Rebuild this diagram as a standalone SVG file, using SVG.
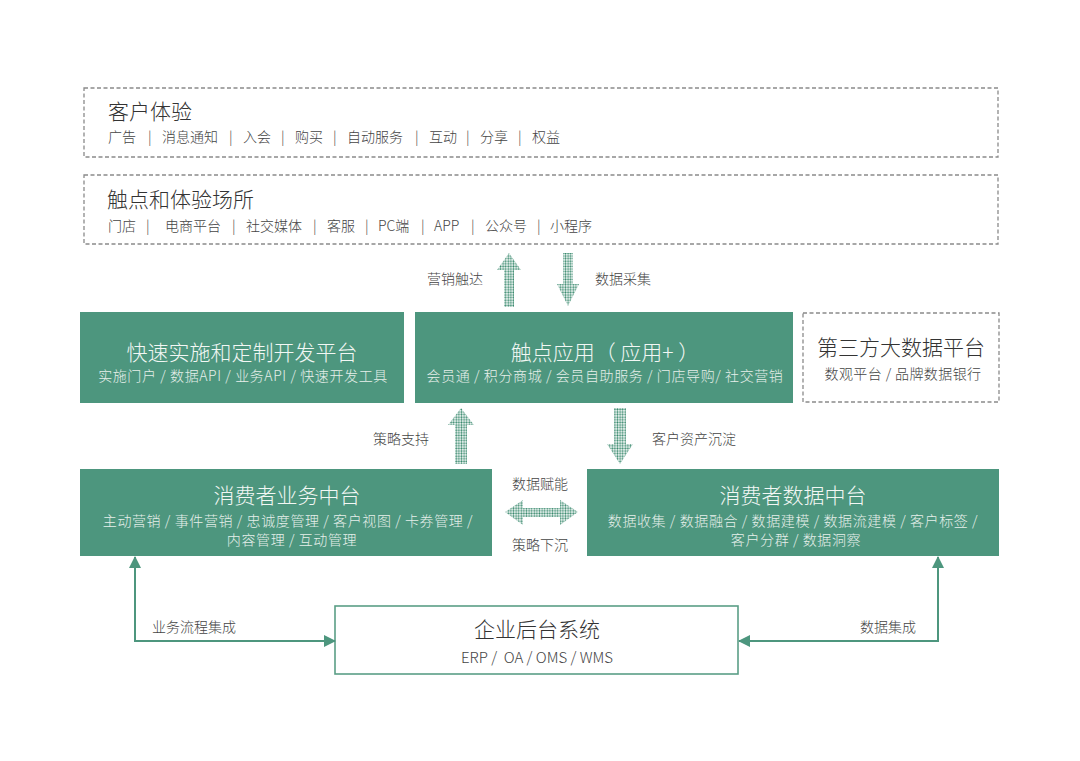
<svg xmlns="http://www.w3.org/2000/svg" width="1080" height="761" viewBox="0 0 1080 761">
<style>
text{font-family:"Noto Sans CJK SC","Liberation Sans",sans-serif;font-weight:300;}
.dash{fill:#fff;stroke:#8a8a8a;stroke-width:1.3;stroke-dasharray:4 2.5;}
.green{fill:#4d967e;}
.white{fill:#fff;stroke:#5a9e86;stroke-width:1.6;}
.t1{font-size:21px;fill:#333;}
.t2{font-size:14px;fill:#444;}
.gt{font-size:21px;fill:#f2f7f4;text-anchor:middle;}
.gs{font-size:14px;fill:#e6efea;text-anchor:middle;letter-spacing:0.6px;}
.lbl{font-size:14px;fill:#444;}
.conn{fill:none;stroke:#4d967e;stroke-width:2;}
.dots{fill:url(#dotp);}
</style>
<defs>
<pattern id="dotp" patternUnits="userSpaceOnUse" width="2.6" height="2.6">
<circle cx="1.3" cy="1.3" r="1" fill="#3a8a6e"/>
</pattern>
<marker id="ah" viewBox="0 0 12 12" refX="11" refY="6" markerWidth="12" markerHeight="12" markerUnits="userSpaceOnUse" orient="auto-start-reverse">
<path d="M0,0 L12,6 L0,12 Z" fill="#4d967e"/>
</marker>
</defs>
<rect width="1080" height="761" fill="#fff"/>

<g id="customer-experience">
<rect class="dash" x="84" y="88" width="914" height="69"/>
<text class="t1" x="108" y="119">客户体验</text>
<text class="t2" y="142"><tspan x="108">广告</tspan><tspan x="148">|</tspan><tspan x="162">消息通知</tspan><tspan x="229">|</tspan><tspan x="243">入会</tspan><tspan x="281">|</tspan><tspan x="295">购买</tspan><tspan x="333">|</tspan><tspan x="347">自动服务</tspan><tspan x="415">|</tspan><tspan x="429">互动</tspan><tspan x="466">|</tspan><tspan x="480">分享</tspan><tspan x="518">|</tspan><tspan x="532">权益</tspan></text>
</g>

<g id="touchpoints">
<rect class="dash" x="84" y="175" width="914" height="69"/>
<text class="t1" x="107" y="207">触点和体验场所</text>
<text class="t2" y="231"><tspan x="108">门店</tspan><tspan x="146">|</tspan><tspan x="165">电商平台</tspan><tspan x="232">|</tspan><tspan x="246">社交媒体</tspan><tspan x="313">|</tspan><tspan x="327">客服</tspan><tspan x="365">|</tspan><tspan x="378">PC端</tspan><tspan x="421">|</tspan><tspan x="434">APP</tspan><tspan x="471">|</tspan><tspan x="485">公众号</tspan><tspan x="537">|</tspan><tspan x="550">小程序</tspan></text>
</g>

<g id="rapid-dev-platform">
<rect class="green" x="80" y="312" width="324" height="91"/>
<text class="gt" x="242" y="360">快速实施和定制开发平台</text>
<text class="gs" x="243" y="381">实施门户 / 数据API / 业务API / 快速开发工具</text>
</g>

<g id="touchpoint-apps">
<rect class="green" x="415" y="312" width="378" height="91"/>
<text class="gt" x="605" y="360">触点应用（ 应用+ ）</text>
<text class="gs" x="605" y="381">会员通 / 积分商城 / 会员自助服务 / 门店导购/ 社交营销</text>
</g>

<g id="third-party-data">
<rect class="dash" x="803" y="313" width="196" height="89"/>
<text class="t1" x="901" y="355" style="text-anchor:middle">第三方大数据平台</text>
<text class="t2" x="903" y="379" style="text-anchor:middle;letter-spacing:0.4px">数观平台 / 品牌数据银行</text>
</g>

<g id="business-middle">
<rect class="green" x="80" y="469" width="412" height="87"/>
<text class="gt" x="287" y="503">消费者业务中台</text>
<text class="gs" x="288" y="526">主动营销 / 事件营销 / 忠诚度管理 / 客户视图 / 卡券管理 /</text>
<text class="gs" x="292" y="545">内容管理 / 互动管理</text>
</g>

<g id="data-middle">
<rect class="green" x="587" y="469" width="412" height="87"/>
<text class="gt" x="793" y="503">消费者数据中台</text>
<text class="gs" x="793" y="526">数据收集 / 数据融合 / 数据建模 / 数据流建模 / 客户标签 /</text>
<text class="gs" x="796" y="545">客户分群 / 数据洞察</text>
</g>

<g id="backend">
<rect class="white" x="335" y="606" width="403" height="68"/>
<text class="t1" x="537" y="637" style="text-anchor:middle">企业后台系统</text>
<text class="t2" x="537" y="663" style="text-anchor:middle;font-size:15px" xml:space="preserve">ERP /  OA / OMS / WMS</text>
</g>

<g id="connectors">
<polygon class="dots" points="509,253 521,270 514,270 514,307 504,307 504,270 497,270"/>
<polygon class="dots" points="563,253 573,253 573,284 579,284 568,306 557,284 563,284"/>
<polygon class="dots" points="461,408 474,425 467,425 467,464 455,464 455,425 448,425"/>
<polygon class="dots" points="614,408 626,408 626,444 633,444 620,464 607,444 614,444"/>
<polygon class="dots" points="505,512 523,500 523,508 560,508 560,500 578,512 560,525 560,517 523,517 523,525"/>
<path class="conn" d="M135,557 V641 H335" marker-start="url(#ah)" marker-end="url(#ah)"/>
<path class="conn" d="M938,557 V641 H739" marker-start="url(#ah)" marker-end="url(#ah)"/>
<text class="lbl" x="427" y="284">营销触达</text>
<text class="lbl" x="595" y="284">数据采集</text>
<text class="lbl" x="373" y="444">策略支持</text>
<text class="lbl" x="652" y="444">客户资产沉淀</text>
<text class="lbl" x="540" y="489" style="text-anchor:middle">数据赋能</text>
<text class="lbl" x="540" y="550" style="text-anchor:middle">策略下沉</text>
<text class="lbl" x="152" y="632">业务流程集成</text>
<text class="lbl" x="860" y="632">数据集成</text>
</g>
</svg>
